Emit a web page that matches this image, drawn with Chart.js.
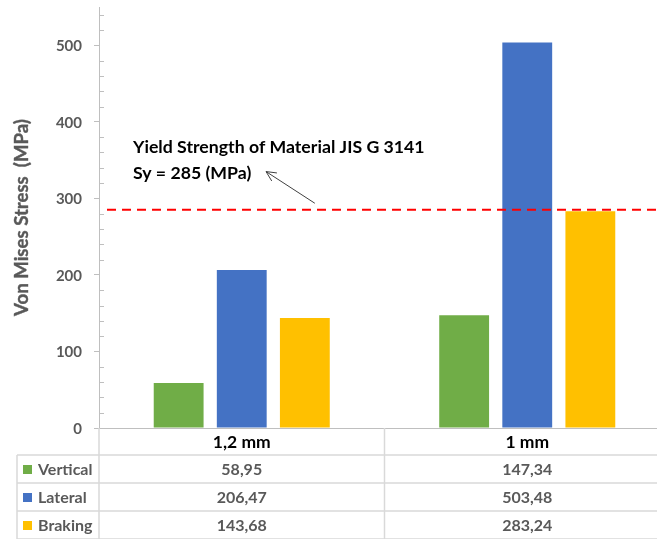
<!DOCTYPE html>
<html>
<head>
<meta charset="utf-8">
<script src="https://cdn.jsdelivr.net/npm/chart.js@4"></script>
<style>
  html, body { margin: 0; padding: 0; background: #fff; overflow: hidden; }
  #wrap { width: 670px; height: 539px; }
</style>
</head>
<body>
<div id="wrap"><canvas id="stressChart" width="670" height="539"></canvas></div>
<script>
// Data
const categories = ['1,2 mm', '1 mm'];
const seriesNames = ['Vertical', 'Lateral', 'Braking'];
const verticalValues = [58.95, 147.34];
const lateralValues = [206.47, 503.48];
const brakingValues = [143.68, 283.24];
const valueLabels = [['58,95', '147,34'], ['206,47', '503,48'], ['143,68', '283,24']];
const seriesColors = ['#70AD47', '#4472C4', '#FFC000'];
const yieldStrength = 285;
const yTickStep = 100;
const yMinorStep = 20;
const yMax = 550;

const FONT = 'Lato, "Open Sans", sans-serif';
const GRAY = '#595959';
const TABLE_LINE = '#D9D9D9';

// axis labels, yield line, note and the data table under the plot
const overlayPlugin = {
    id: 'overlay',
    afterDatasetsDraw(chart) {
        const ctx = chart.ctx;
        const area = chart.chartArea;
        const x = chart.scales.x;
        const y = chart.scales.y;

        ctx.save();

        // minor ticks on the inside of the value axis
        ctx.strokeStyle = '#BFBFBF';
        ctx.lineWidth = 1;
        for (let v = yMinorStep; v < yMax; v += yMinorStep) {
            if (v % yTickStep === 0) continue;
            const py = Math.round(y.getPixelForValue(v)) + 0.5;
            ctx.beginPath();
            ctx.moveTo(area.left, py);
            ctx.lineTo(area.left + 5, py);
            ctx.stroke();
        }

        // tick labels
        ctx.fillStyle = GRAY;
        ctx.font = 'bold 15px ' + FONT;
        ctx.textAlign = 'right';
        ctx.textBaseline = 'middle';
        y.ticks.forEach(t => {
            ctx.fillText(String(t.value), area.left - 17, y.getPixelForValue(t.value) + 1);
        });

        // axis title
        ctx.save();
        ctx.translate(22, (area.top + area.bottom) / 2);
        ctx.rotate(-Math.PI / 2);
        ctx.textAlign = 'center';
        ctx.font = 'bold 18.6px ' + FONT;
        ctx.strokeStyle = GRAY;
        ctx.lineWidth = 0.4;
        ctx.fillText('Von Mises Stress  (MPa)', 0, 0);
        ctx.strokeText('Von Mises Stress  (MPa)', 0, 0);
        ctx.restore();

        // yield strength line
        const yy = y.getPixelForValue(yieldStrength);
        ctx.strokeStyle = '#FF0000';
        ctx.lineWidth = 2;
        ctx.setLineDash([9, 6]);
        ctx.beginPath();
        ctx.moveTo(area.left + 8, yy);
        ctx.lineTo(chart.width, yy);
        ctx.stroke();
        ctx.setLineDash([]);

        // note text
        const tx = x.getPixelForValue(-0.381);
        ctx.fillStyle = '#000';
        ctx.font = 'bold 17.7px ' + FONT;
        ctx.textAlign = 'left';
        ctx.fillText('Yield Strength of Material JIS G 3141', tx, y.getPixelForValue(366.6));
        ctx.fillText('Sy = 285 (MPa)', tx, y.getPixelForValue(332.7));

        // arrow pointing to the note
        const ax0 = x.getPixelForValue(0.256), ay0 = y.getPixelForValue(293.6);
        const ax1 = x.getPixelForValue(0.085), ay1 = y.getPixelForValue(335);
        const ang = Math.atan2(ay1 - ay0, ax1 - ax0);
        ctx.strokeStyle = '#404040';
        ctx.lineWidth = 1;
        ctx.beginPath();
        ctx.moveTo(ax0, ay0);
        ctx.lineTo(ax1, ay1);
        ctx.moveTo(ax1 - 11 * Math.cos(ang - 0.45), ay1 - 11 * Math.sin(ang - 0.45));
        ctx.lineTo(ax1, ay1);
        ctx.lineTo(ax1 - 11 * Math.cos(ang + 0.45), ay1 - 11 * Math.sin(ang + 0.45));
        ctx.stroke();

        // data table
        const top = area.bottom;
        const headH = 27;
        const rowH = 28;
        const tableLeft = 17;
        const right = chart.width;
        const bottom = top + headH + rowH * seriesNames.length;

        ctx.strokeStyle = '#BFBFBF';
        ctx.lineWidth = 1;
        ctx.beginPath();
        ctx.moveTo(area.left - 5, Math.round(top) + 0.5);
        ctx.lineTo(right, Math.round(top) + 0.5);
        ctx.stroke();

        ctx.strokeStyle = TABLE_LINE;
        ctx.lineWidth = 1.5;
        for (let i = 0; i <= seriesNames.length; i++) {
            const ry = top + headH + rowH * i;
            ctx.beginPath();
            ctx.moveTo(tableLeft, ry);
            ctx.lineTo(right, ry);
            ctx.stroke();
        }
        ctx.beginPath();
        ctx.moveTo(tableLeft, top + headH);
        ctx.lineTo(tableLeft, bottom);
        ctx.moveTo(area.left, top);
        ctx.lineTo(area.left, bottom);
        const divX = x.getPixelForValue(0.5);
        ctx.moveTo(divX, top);
        ctx.lineTo(divX, bottom);
        ctx.stroke();

        // header labels
        ctx.textAlign = 'center';
        ctx.fillStyle = '#000';
        ctx.font = 'bold 17.5px ' + FONT;
        categories.forEach((c, i) => {
            ctx.fillText(c, x.getPixelForValue(i), top + headH / 2 + 1);
        });

        // rows
        seriesNames.forEach((name, r) => {
            const cy = top + headH + rowH * r + rowH / 2 + 1;
            ctx.fillStyle = seriesColors[r];
            ctx.fillRect(23, cy - 5, 9, 9);
            ctx.fillStyle = GRAY;
            ctx.font = 'bold 16px ' + FONT;
            ctx.textAlign = 'left';
            ctx.fillText(name, 38, cy);
            ctx.textAlign = 'center';
            valueLabels[r].forEach((t, i) => {
                ctx.fillText(t, x.getPixelForValue(i), cy);
            });
        });

        // value axis line carried down through the table
        ctx.strokeStyle = '#BFBFBF';
        ctx.lineWidth = 1;
        ctx.beginPath();
        ctx.moveTo(Math.round(area.left) + 0.5, area.top);
        ctx.lineTo(Math.round(area.left) + 0.5, top);
        ctx.stroke();

        ctx.restore();
    }
};

const ctx = document.getElementById('stressChart').getContext('2d');

new Chart(ctx, {
    type: 'bar',
    data: {
        labels: categories,
        datasets: [
            { label: seriesNames[0], data: verticalValues, backgroundColor: seriesColors[0] },
            { label: seriesNames[1], data: lateralValues, backgroundColor: seriesColors[1] },
            { label: seriesNames[2], data: brakingValues, backgroundColor: seriesColors[2] }
        ]
    },
    options: {
        responsive: false,
        animation: false,
        barPercentage: 0.79,
        categoryPercentage: 0.663,
        layout: {
            padding: { top: 7, bottom: 111, left: 0, right: 0 }
        },
        scales: {
            x: {
                display: false
            },
            y: {
                min: 0,
                max: yMax,
                afterBuildTicks: function(scale) {
                    scale.ticks = scale.ticks.filter(t => t.value % yTickStep === 0);
                },
                afterFit: function(scale) {
                    scale.width = 99;
                    scale.paddingTop = 0;
                    scale.paddingBottom = 0;
                },
                grid: {
                    drawOnChartArea: false,
                    drawTicks: true,
                    tickLength: 5,
                    color: '#BFBFBF'
                },
                border: {
                    color: '#BFBFBF',
                    width: 1
                },
                ticks: {
                    stepSize: yTickStep,
                    display: false
                }
            }
        },
        plugins: {
            legend: { display: false },
            tooltip: { enabled: false }
        }
    },
    plugins: [overlayPlugin]
});
</script>
</body>
</html>
